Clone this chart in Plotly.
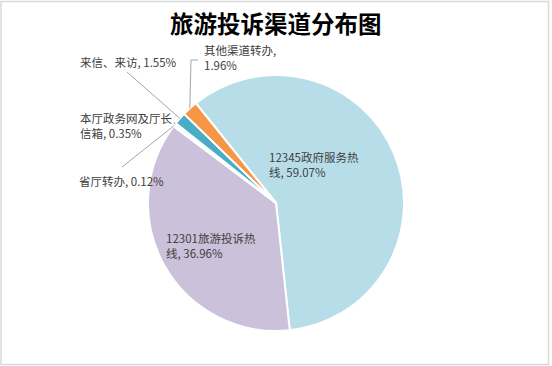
import math
import plotly.graph_objects as go

# ---- data ----
categories = ["12345政府服务热线", "12301旅游投诉热线", "省厅转办", "本厅政务网及厅长信箱", "来信、来访", "其他渠道转办"]
values = [59.07, 36.96, 0.12, 0.35, 1.55, 1.96]
colors = ["#B7DEE8", "#CCC1DA", "#F4F4F4", "#F7F7F7", "#4BACC6", "#F79646"]
title_text = "旅游投诉渠道分布图"

W, H = 552, 366
CX, CY, R = 276, 203, 128
ROT = -38.8

def px2paper(x, y):
    return x / W, 1 - y / H

# slice mid angles (clockwise from 12 o'clock)
total = sum(values)
mids = []
acc = ROT
for v in values:
    span = v / total * 360
    mids.append(acc + span / 2)
    acc += span

def rim_point(i, f=1.0):
    a = math.radians(mids[i])
    return CX + R * f * math.sin(a), CY - R * f * math.cos(a)

fig = go.Figure(go.Pie(
    labels=categories, values=values, sort=False, direction="clockwise",
    rotation=ROT, textinfo="none", hoverinfo="label+percent",
    marker=dict(colors=colors, line=dict(color="white", width=2)),
    domain=dict(x=[(CX - R) / W, (CX + R) / W], y=[(H - CY - R) / H, (H - CY + R) / H]),
    showlegend=False,
))

font = dict(family="Noto Sans CJK SC, sans-serif", size=11.5, color="#404040")

# label text: (index, text, left-x px, center-y px)
labels = [
    (0, f"12345政府服务热<br>线, {values[0]:.2f}%", 267, 165),
    (1, f"12301旅游投诉热<br>线, {values[1]:.2f}%", 164, 245),
    (2, f"省厅转办, {values[2]:.2f}%", 77, 181),
    (3, f"本厅政务网及厅长<br>信箱, {values[3]:.2f}%", 78, 125),
    (4, f"来信、来访, {values[4]:.2f}%", 78, 62),
    (5, f"其他渠道转办,<br>{values[5]:.2f}%", 202, 57),
]
annotations = []
for i, t, x, y in labels:
    xp, yp = px2paper(x, y)
    annotations.append(dict(text=t, x=xp, y=yp, xref="paper", yref="paper",
                            xanchor="left", yanchor="middle", align="left",
                            showarrow=False, font=font))
tx, ty = px2paper(CX, 23)
annotations.append(dict(text="<b>" + title_text + "</b>", x=tx, y=ty, xref="paper", yref="paper",
                        xanchor="center", yanchor="middle", showarrow=False,
                        font=dict(family="Noto Sans CJK SC, sans-serif", size=23.5, color="#000000")))

# leader lines: start point (px) near label -> slice rim
starts = {2: (122, 167), 3: (174, 122), 4: (127, 72)}
shapes = []
for i, (sx, sy) in starts.items():
    ex, ey = rim_point(i, 1.0)
    x0, y0 = px2paper(sx, sy)
    x1, y1 = px2paper(ex, ey)
    shapes.append(dict(type="line", xref="paper", yref="paper", x0=x0, y0=y0, x1=x1, y1=y1,
                       line=dict(color="#A6A6A6", width=1)))
ex, ey = rim_point(5, 1.0)
pts = [px2paper(198, 60), px2paper(191, 60), px2paper(ex, ey)]
path = "M {} {} L {} {} L {} {}".format(pts[0][0], pts[0][1], pts[1][0], pts[1][1], pts[2][0], pts[2][1])
shapes.append(dict(type="path", xref="paper", yref="paper", path=path,
                   line=dict(color="#A6A6A6", width=1)))
# chart border
bx0, by0 = px2paper(1, 1.5)
bx1, by1 = px2paper(548.5, 364.5)
shapes.append(dict(type="rect", xref="paper", yref="paper", x0=bx0, y0=by0, x1=bx1, y1=by1,
                   line=dict(color="#D9D9D9", width=1.5), fillcolor="rgba(0,0,0,0)"))

fig.update_layout(width=W, height=H, margin=dict(l=0, r=0, t=0, b=0),
                  paper_bgcolor="white", plot_bgcolor="white",
                  annotations=annotations, shapes=shapes)
fig.write_html("out.html", config={"displayModeBar": False},
               post_script="document.body.style.margin='0';document.body.style.overflow='hidden';")
